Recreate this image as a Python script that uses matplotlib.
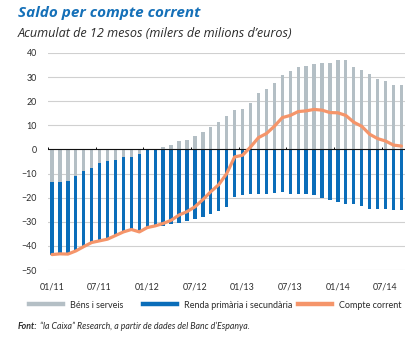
import matplotlib
matplotlib.use("Agg")
import matplotlib.pyplot as plt
from matplotlib.lines import Line2D
import numpy as np

# ---- data (12-month cumulative, billions of euros), monthly 01/11 .. 09/14 ----
months = ["01/11", "02/11", "03/11", "04/11", "05/11", "06/11", "07/11", "08/11", "09/11",
          "10/11", "11/11", "12/11", "01/12", "02/12", "03/12", "04/12", "05/12", "06/12",
          "07/12", "08/12", "09/12", "10/12", "11/12", "12/12", "01/13", "02/13", "03/13",
          "04/13", "05/13", "06/13", "07/13", "08/13", "09/13", "10/13", "11/13", "12/13",
          "01/14", "02/14", "03/14", "04/14", "05/14", "06/14", "07/14", "08/14", "09/14"]

bens_serveis = [-13.6, -13.6, -13.1, -11.0, -9.0, -7.8, -5.8, -5.0, -4.2, -3.3, -3.3, -2.0,
                -0.3, 0.3, 1.2, 2.0, 3.5, 4.0, 5.4, 7.4, 9.3, 11.3, 13.8, 16.3, 16.6, 19.2,
                23.3, 24.9, 27.7, 30.9, 32.5, 34.3, 34.6, 35.4, 36.0, 36.0, 37.1, 37.1, 34.3,
                33.0, 31.1, 29.3, 28.2, 26.9, 26.9]

renda = [-30.0, -29.7, -30.3, -31.1, -31.3, -30.8, -32.1, -32.2, -31.5, -30.9, -29.9, -32.2,
         -32.1, -31.8, -31.6, -31.0, -30.5, -29.8, -29.0, -28.0, -26.6, -25.7, -23.9, -19.7,
         -19.0, -18.3, -18.3, -18.3, -17.9, -17.6, -18.3, -18.5, -18.6, -19.0, -20.0, -20.8,
         -21.9, -22.5, -22.5, -23.6, -24.6, -24.7, -24.7, -25.0, -25.3]

compte_corrent = [-43.6, -43.3, -43.4, -42.1, -40.3, -38.6, -37.9, -37.2, -35.7, -34.2, -33.2,
                  -34.2, -32.4, -31.7, -30.7, -29.4, -27.2, -25.8, -23.8, -20.8, -17.5, -14.6,
                  -10.0, -3.1, -2.4, 1.0, 4.9, 6.6, 9.6, 13.2, 14.1, 15.7, 16.0, 16.6, 16.3,
                  15.3, 15.2, 14.1, 11.3, 9.6, 6.3, 4.5, 3.5, 1.8, 1.4]

tick_labels = ["01/11", "07/11", "01/12", "07/12", "01/13", "07/13", "01/14", "07/14"]

title = "Saldo per compte corrent"
subtitle = "Acumulat de 12 mesos (milers de milions d’euros)"
legend_labels = ["Béns i serveis", "Renda primària i secundària", "Compte corrent"]
source_bold = "Font:"
source_rest = " “la Caixa” Research, a partir de dades del Banc d’Espanya."

# ---- style ----
GREY = "#B4BFC5"
BLUE = "#0A6DB9"
ORANGE = "#F5956A"
TITLE_C = "#1570B8"
TEXT_C = "#2B2B2B"
FONT = ["Lato", "DejaVu Sans"]
TFONT = ["Open Sans", "DejaVu Sans"]
plt.rcParams["font.family"] = FONT

W, H = 413, 338
fig = plt.figure(figsize=(W / 100, H / 100), dpi=100)
ax = fig.add_axes([48 / W, 1 - 270 / H, (405 - 48) / W, (270 - 53) / H])

x = np.arange(len(months))
g = np.array(bens_serveis)
r = np.array(renda)
bottom_r = np.where(g < 0, g, 0.0)

bw = 0.42
ax.bar(x, g, width=bw, color=GREY, zorder=2, linewidth=0)
ax.bar(x, r, bottom=bottom_r, width=bw, color=BLUE, zorder=2, linewidth=0)
ax.plot(x, compte_corrent, color=ORANGE, lw=2.3, zorder=4, solid_capstyle="round")

ax.set_xlim(-0.5, 44.45)
ax.set_ylim(-50, 40)
ax.set_yticks(np.arange(-50, 41, 10))
ax.yaxis.grid(True, color="#D0D0D0", lw=0.8, zorder=0)
ax.set_axisbelow(True)
ax.axhline(0, color="#111111", lw=0.8, zorder=3)

tick_pos = [months.index(t) for t in tick_labels]
ax.set_xticks(tick_pos)
ax.set_xticklabels(tick_labels)
# small boundary marks on the zero line
bounds = np.array(tick_pos) - 0.5
ax.vlines(bounds, 0, 1.1, color="#111111", lw=0.7, zorder=3)

ax.tick_params(axis="both", length=0, labelsize=6.4, colors=TEXT_C)
ax.tick_params(axis="y", pad=8)
ax.tick_params(axis="x", pad=9)
for s in ax.spines.values():
    s.set_visible(False)

# ---- titles ----
fig.text(17.5 / W, 1 - 16.7 / H, title, fontsize=11, fontweight="bold", fontstyle="italic",
         color=TITLE_C, va="baseline", ha="left", family=TFONT)
fig.text(17.5 / W, 1 - 37.3 / H, subtitle, fontsize=9.1, fontstyle="italic",
         color=TEXT_C, va="baseline", ha="left", family=TFONT)

# ---- legend ----
colors = [GREY, BLUE, ORANGE]
xs = [31, 145, 300]
for lab, c, x0 in zip(legend_labels, colors, xs):
    h = Line2D([0], [0], color=c, lw=3.2)
    fig.legend([h], [lab], loc="center left", bbox_to_anchor=(x0 / W - 0.004, 1 - 305 / H),
               frameon=False, fontsize=6.5, handlelength=3.75, handletextpad=0.7,
               borderpad=0, borderaxespad=0, labelcolor=TEXT_C)

# ---- source ----
t1 = fig.text(18 / W, 1 - 329 / H, source_bold, fontsize=6.35, fontweight="bold",
              fontstyle="italic", color=TEXT_C, va="baseline", ha="left")
ax.annotate(source_rest, xy=(1, 0), xycoords=t1, xytext=(0, 0), textcoords="offset points",
            fontsize=6.35, fontstyle="italic", color=TEXT_C, va="bottom", ha="left",
            annotation_clip=False)

fig.savefig("out.png", dpi=100)
